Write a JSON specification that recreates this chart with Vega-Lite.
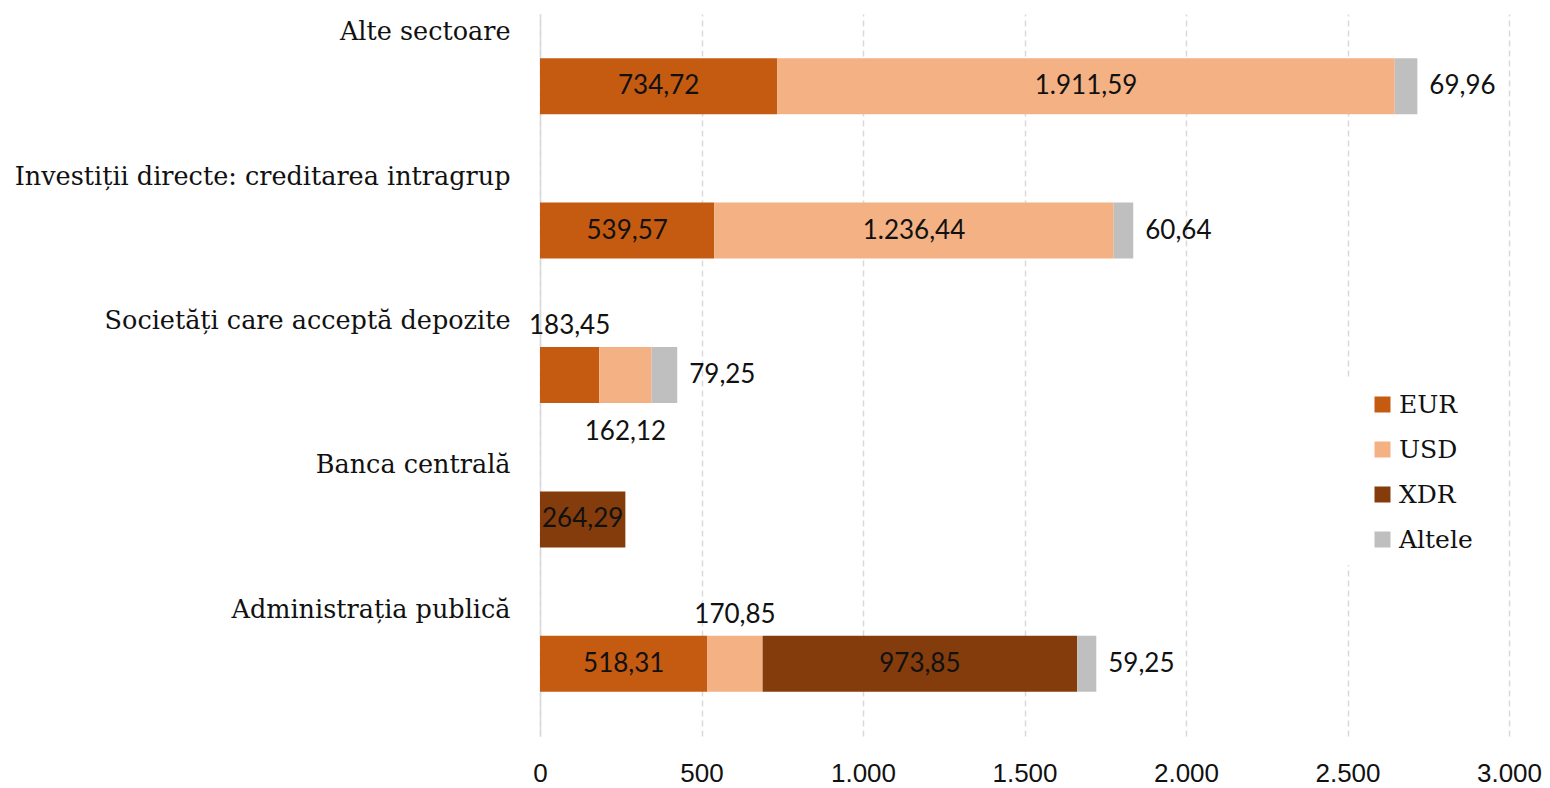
{
  "$schema": "https://vega.github.io/schema/vega-lite/v6.json",
  "width": 969,
  "height": 722,
  "autosize": {"type": "none"},
  "padding": {"left": 540, "top": 14, "right": 41, "bottom": 52},
  "background": "white",
  "config": {
    "locale": {"number": {"decimal": ",", "thousands": ".", "grouping": [3], "currency": ["", ""]}},
    "view": {"stroke": null},
    "font": "DejaVu Serif"
  },
  "data": {
    "values": [
      {"sector": "Alte sectoare", "moneda": "EUR", "ord": 1, "value": 734.72, "lab": "in"},
      {"sector": "Alte sectoare", "moneda": "USD", "ord": 2, "value": 1911.59, "lab": "in"},
      {"sector": "Alte sectoare", "moneda": "Altele", "ord": 4, "value": 69.96, "lab": "right"},
      {"sector": "Investiții directe: creditarea intragrup", "moneda": "EUR", "ord": 1, "value": 539.57, "lab": "in"},
      {"sector": "Investiții directe: creditarea intragrup", "moneda": "USD", "ord": 2, "value": 1236.44, "lab": "in"},
      {"sector": "Investiții directe: creditarea intragrup", "moneda": "Altele", "ord": 4, "value": 60.64, "lab": "right"},
      {"sector": "Societăți care acceptă depozite", "moneda": "EUR", "ord": 1, "value": 183.45, "lab": "above"},
      {"sector": "Societăți care acceptă depozite", "moneda": "USD", "ord": 2, "value": 162.12, "lab": "below"},
      {"sector": "Societăți care acceptă depozite", "moneda": "Altele", "ord": 4, "value": 79.25, "lab": "right"},
      {"sector": "Banca centrală", "moneda": "XDR", "ord": 3, "value": 264.29, "lab": "in"},
      {"sector": "Administrația publică", "moneda": "EUR", "ord": 1, "value": 518.31, "lab": "in"},
      {"sector": "Administrația publică", "moneda": "USD", "ord": 2, "value": 170.85, "lab": "above"},
      {"sector": "Administrația publică", "moneda": "XDR", "ord": 3, "value": 973.85, "lab": "in"},
      {"sector": "Administrația publică", "moneda": "Altele", "ord": 4, "value": 59.25, "lab": "right"}
    ]
  },
  "transform": [
    {"stack": "value", "groupby": ["sector"], "sort": [{"field": "ord", "order": "ascending"}], "as": ["v0", "v1"]}
  ],
  "encoding": {
    "y": {
      "field": "sector",
      "type": "nominal",
      "sort": ["Alte sectoare", "Investiții directe: creditarea intragrup", "Societăți care acceptă depozite", "Banca centrală", "Administrația publică"],
      "scale": {"paddingInner": 0.6125, "paddingOuter": 0.30625},
      "axis": {
        "title": null,
        "labelAlign": "right",
        "labelPadding": 30,
        "labelOffset": -54,
        "ticks": false,
        "domainColor": "#d9d9d9",
        "domainWidth": 1.5,
        "labelFontSize": 25.5,
        "labelFont": "DejaVu Serif",
        "labelColor": "#111111",
        "labelLimit": 700
      }
    }
  },
  "layer": [
    {
      "mark": {"type": "bar"},
      "encoding": {
        "x": {
          "field": "v0",
          "type": "quantitative",
          "scale": {"domain": [0, 3000], "nice": false},
          "axis": {
            "title": null,
            "format": ",.0f",
            "values": [0, 500, 1000, 1500, 2000, 2500, 3000],
            "grid": true,
            "gridDash": [6, 4],
            "gridColor": "#d9d9d9",
            "gridWidth": 1.5,
            "domain": false,
            "ticks": false,
            "labelFlush": false,
            "labelPadding": 24,
            "labelFontSize": 26,
            "labelFont": "Liberation Sans Narrow, Liberation Sans, sans-serif",
            "labelColor": "#111111"
          }
        },
        "x2": {"field": "v1"},
        "color": {
          "field": "moneda",
          "type": "nominal",
          "scale": {"domain": ["EUR", "USD", "XDR", "Altele"], "range": ["#C55A11", "#F4B183", "#843C0C", "#BFBFBF"]},
          "legend": {
            "orient": "none",
            "legendX": 795,
            "legendY": 366,
            "title": null,
            "symbolType": "square",
            "symbolSize": 256,
            "symbolStrokeWidth": 0,
            "symbolOffset": 23,
            "labelFontSize": 25,
            "labelFont": "DejaVu Serif",
            "labelColor": "#111111",
            "labelOffset": 4,
            "rowPadding": 19,
            "fillColor": "white",
            "padding": 12,
            "labelExpr": "datum.label + '\u00a0\u00a0\u00a0\u00a0'"
          }
        }
      }
    },
    {
      "transform": [
        {"filter": "datum.lab == 'in'"},
        {"fold": ["v0", "v1"], "as": ["side", "edge"]}
      ],
      "mark": {"type": "text", "font": "Lato", "fontSize": 26, "color": "#111111"},
      "encoding": {
        "x": {"field": "edge", "aggregate": "mean", "type": "quantitative"},
        "detail": {"field": "moneda"},
        "text": {"field": "value", "type": "quantitative", "format": ",.2f"}
      }
    },
    {
      "transform": [
        {"filter": "datum.lab == 'above'"},
        {"fold": ["v0", "v1"], "as": ["side", "edge"]}
      ],
      "mark": {"type": "text", "font": "Lato", "fontSize": 26, "color": "#111111", "dy": -49},
      "encoding": {
        "x": {"field": "edge", "aggregate": "mean", "type": "quantitative"},
        "detail": {"field": "moneda"},
        "text": {"field": "value", "type": "quantitative", "format": ",.2f"}
      }
    },
    {
      "transform": [
        {"filter": "datum.lab == 'below'"},
        {"fold": ["v0", "v1"], "as": ["side", "edge"]}
      ],
      "mark": {"type": "text", "font": "Lato", "fontSize": 26, "color": "#111111", "dy": 57},
      "encoding": {
        "x": {"field": "edge", "aggregate": "mean", "type": "quantitative"},
        "detail": {"field": "moneda"},
        "text": {"field": "value", "type": "quantitative", "format": ",.2f"}
      }
    },
    {
      "transform": [{"filter": "datum.lab == 'right'"}],
      "mark": {"type": "text", "font": "Lato", "fontSize": 26, "color": "#111111", "align": "left", "dx": 12},
      "encoding": {
        "x": {"field": "v1", "type": "quantitative"},
        "text": {"field": "value", "type": "quantitative", "format": ",.2f"}
      }
    }
  ]
}
